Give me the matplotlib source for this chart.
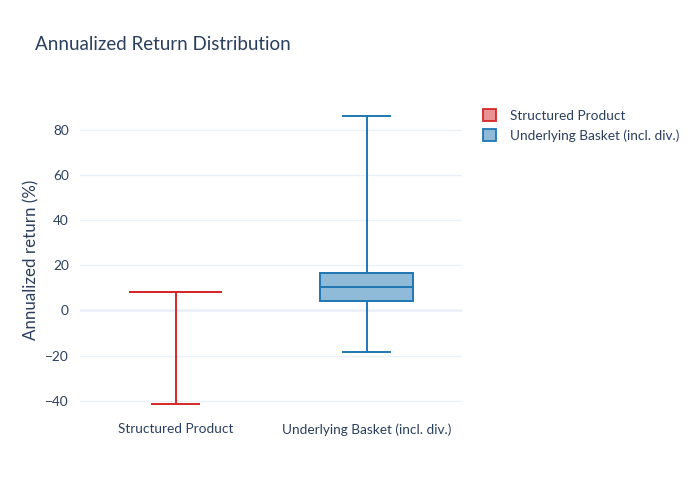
import matplotlib.pyplot as plt
from matplotlib.patches import Patch

categories = ['Structured Product', 'Underlying Basket (incl. div.)']
whislo = [-41.3, -18.6]
q1 = [8.0, 4.3]
med = [8.0, 10.4]
q3 = [8.0, 16.4]
whishi = [8.0, 86.1]
yticks = [-40, -20, 0, 20, 40, 60, 80]

line_colors = ['#d62728', '#1f77b4']
fill_colors = ['#eb9394', '#8fbbd9']
txt = '#2a3f5f'
grid = '#ebf0f8'

plt.rcParams['font.family'] = ['Lato', 'DejaVu Sans']

fig = plt.figure(figsize=(7, 5), dpi=100)
ax = fig.add_axes([80 / 700, 80 / 500, 382 / 700, 320 / 500])

stats = []
for i, name in enumerate(categories):
    stats.append(dict(label=name, whislo=whislo[i], q1=q1[i], med=med[i],
                      q3=q3[i], whishi=whishi[i], fliers=[]))

for i, st in enumerate(stats):
    c = line_colors[i]
    ax.bxp([st], positions=[i], widths=0.49, capwidths=0.245,
           showfliers=False, patch_artist=True,
           boxprops=dict(facecolor=fill_colors[i], edgecolor=c, linewidth=1.4),
           medianprops=dict(color=c, linewidth=1.4),
           whiskerprops=dict(color=c, linewidth=1.4),
           capprops=dict(color=c, linewidth=1.4))

ax.set_xlim(-0.5, 1.5)
ax.set_ylim(-48.5, 93.05)
ax.set_yticks(yticks)
ax.set_xticks([0, 1])
ax.set_xticklabels(categories)
for y in yticks:
    ax.axhline(y, color=grid, linewidth=2 if y == 0 else 1, zorder=0)
for s in ax.spines.values():
    s.set_visible(False)
ax.tick_params(length=0, colors=txt, labelsize=9.8)
ax.tick_params(axis='y', pad=8)
ax.tick_params(axis='x', pad=2.5)
ax.set_ylabel('Annualized return (%)', color=txt, fontsize=12.2, labelpad=4)

fig.text(35 / 700, 1 - 44 / 500, 'Annualized Return Distribution', color=txt,
         fontsize=13.5, va='center', ha='left')

handles = [Patch(facecolor=fill_colors[i], edgecolor=line_colors[i], linewidth=1.3)
           for i in range(2)]
fig.legend(handles, categories, loc='upper left', bbox_to_anchor=(471 / 700, 1 - 97 / 500),
           frameon=False, fontsize=9.8, labelcolor=txt, handlelength=0.9,
           handleheight=0.9, handletextpad=1.1, labelspacing=0.55)

fig.savefig('out.png', dpi=100)
